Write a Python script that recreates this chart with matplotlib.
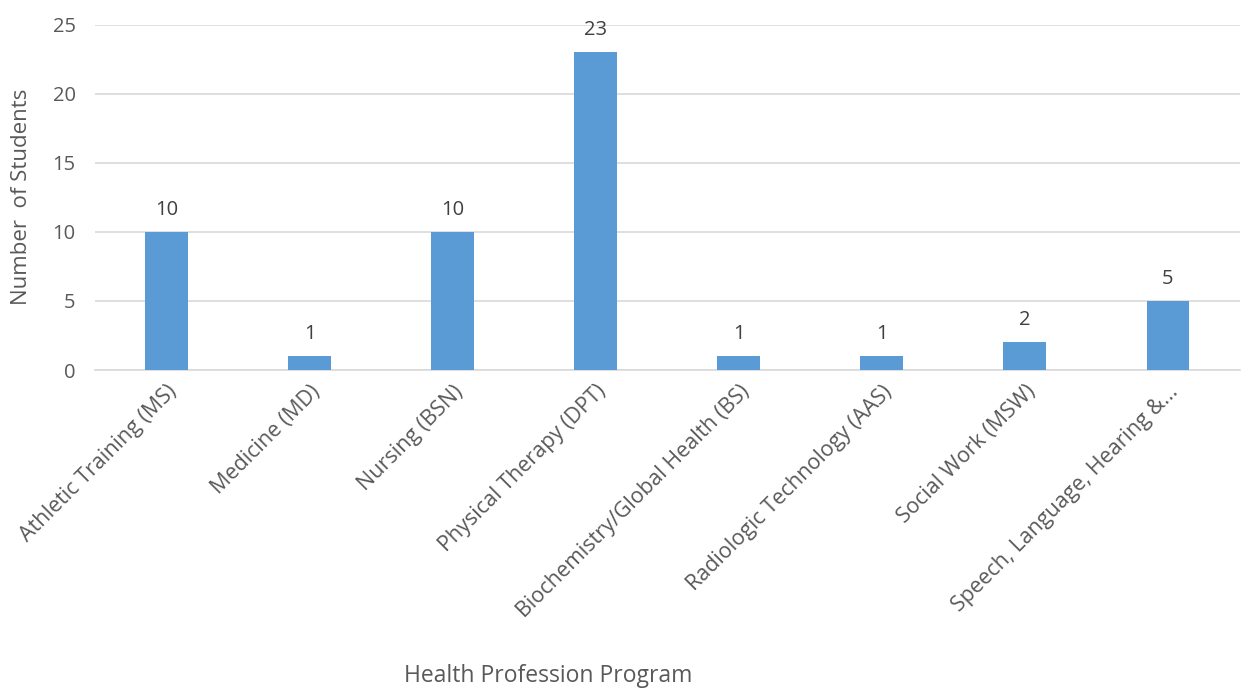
import matplotlib.pyplot as plt
import numpy as np

programs = ['Athletic Training (MS)', 'Medicine (MD)', 'Nursing (BSN)',
            'Physical Therapy (DPT)', 'Biochemistry/Global Health (BS)',
            'Radiologic Technology (AAS)', 'Social Work (MSW)',
            'Speech, Language, Hearing &...']
students = [10, 1, 10, 23, 1, 1, 2, 5]
yticks = [0, 5, 10, 15, 20, 25]

plt.rcParams['font.family'] = ['Open Sans', 'DejaVu Sans']

fig = plt.figure(figsize=(12.42, 6.91), dpi=100)
ax = fig.add_axes([0.0765, 0.4645, 0.9215, 0.4995])

x = np.arange(len(programs))
ax.bar(x, students, width=0.30, color='#5B9BD5', zorder=3)
for xi, v in zip(x, students):
    ax.text(xi, v + 0.9, str(v), ha='center', va='bottom', fontsize=14.5, color='#404040')

ax.set_xlim(-0.5, len(programs) - 0.5)
ax.set_ylim(0, 25)
ax.set_yticks(yticks)
ax.yaxis.grid(True, color='#D9D9D9', linewidth=1.2, zorder=0)
ax.set_xticks(x)
ax.set_xticklabels(programs, rotation=45, ha='right', rotation_mode='anchor',
                   fontsize=15.5, color='#595959')
ax.tick_params(axis='y', labelsize=14.5, labelcolor='#595959', length=0, pad=14)
ax.tick_params(axis='x', length=0, pad=8)
for s in ['top', 'right', 'left']:
    ax.spines[s].set_visible(False)
ax.spines['bottom'].set_color('#D9D9D9')
ax.spines['bottom'].set_linewidth(1.2)

fig.text(0.0177, 0.715, 'Number  of Students', rotation=90, ha='center', va='center',
         fontsize=16, color='#595959')
fig.text(0.441, 0.022, 'Health Profession Program', ha='center', va='center',
         fontsize=16.5, color='#595959')

plt.savefig('out.png', dpi=100)
